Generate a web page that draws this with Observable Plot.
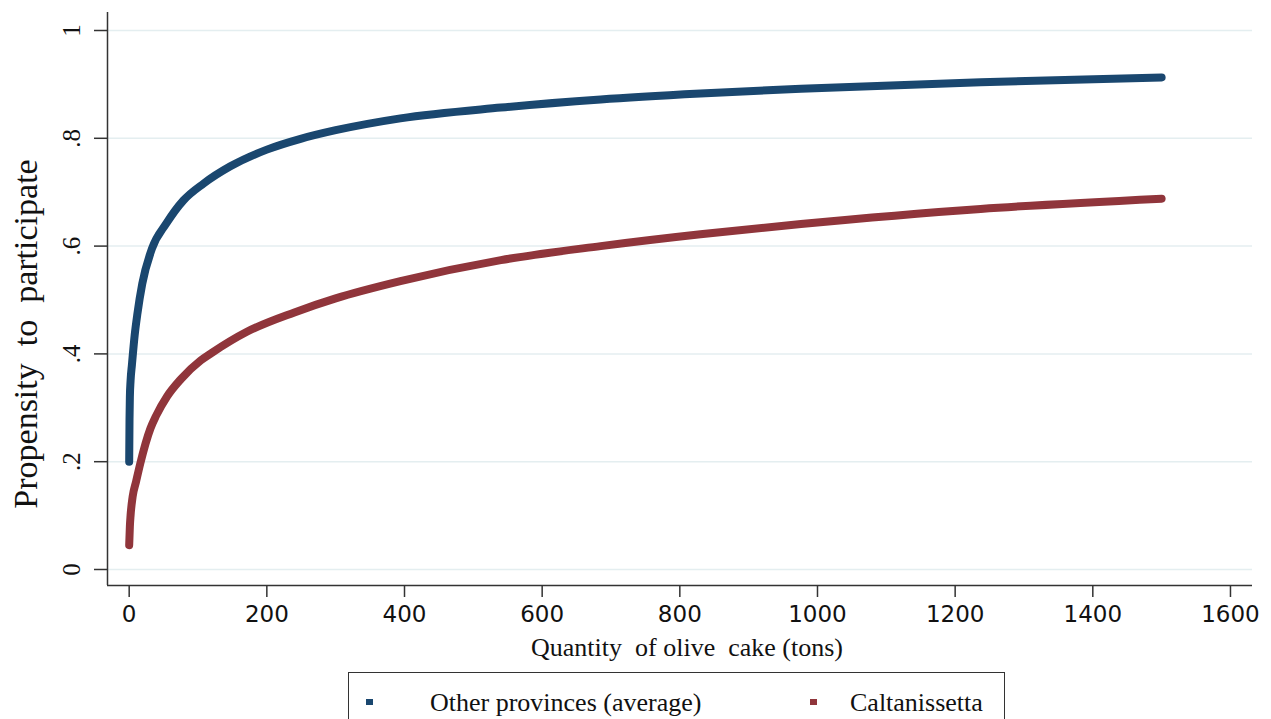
<!DOCTYPE html>
<html>
<head>
<meta charset="utf-8">
<script src="https://cdn.jsdelivr.net/npm/d3@7"></script>
<script src="https://cdn.jsdelivr.net/npm/@observablehq/plot@0.6"></script>
<style>
  html, body { margin: 0; padding: 0; background: #fff; overflow: hidden; }
  #wrap { position: relative; width: 1271px; height: 719px; overflow: hidden; }
  svg text { white-space: pre; }
  #legend { position: absolute; left: 348px; top: 672px; width: 657px; height: 70px;
            border: 1.5px solid #333; box-sizing: border-box; font-family: "Liberation Serif", serif;
            font-size: 26px; color: #111; }
  .item { position: absolute; top: 15px; white-space: pre; }
  .sw { position: absolute; top: 26px; width: 7px; height: 6px; }
</style>
</head>
<body>
<div id="wrap">
  <div id="chart"></div>
  <div id="legend"></div>
</div>
<script>
// ---- data ----
const seriesNames = ["Other provinces (average)", "Caltanissetta"];
const seriesColors = ["#1a476f", "#90353b"];

const otherQty = [0, 0.5, 1, 2, 4, 8, 12, 19, 33, 54, 79, 108, 147, 200, 249, 300, 394, 540, 685, 830, 976, 1237, 1500];
const otherVal = [0.20, 0.28, 0.32, 0.35, 0.38, 0.435, 0.475, 0.53, 0.595, 0.642, 0.685, 0.716, 0.748, 0.779, 0.799, 0.815, 0.837, 0.857, 0.872, 0.883, 0.892, 0.904, 0.913];

const caltQty = [0, 1, 2, 5, 10, 16, 31, 39, 55, 75, 104, 120, 171, 240, 300, 394, 540, 685, 830, 976, 1237, 1500];
const caltVal = [0.045, 0.08, 0.10, 0.135, 0.163, 0.196, 0.262, 0.285, 0.321, 0.353, 0.388, 0.402, 0.441, 0.477, 0.503, 0.535, 0.574, 0.600, 0.622, 0.641, 0.669, 0.688];

const xTicks = [0, 200, 400, 600, 800, 1000, 1200, 1400, 1600];
const yTicks = [0, 0.2, 0.4, 0.6, 0.8, 1];
const yTickLabels = ["0", ".2", ".4", ".6", ".8", "1"];
const xTitle = "Quantity  of olive  cake (tons)";
const yTitle = "Propensity  to  participate";

const xDomain = [-31.5, 1632];
const yDomain = [-0.0297, 1.0334];

const other = otherQty.map((q, i) => ({q, v: otherVal[i], s: seriesNames[0]}));
const calt = caltQty.map((q, i) => ({q, v: caltVal[i], s: seriesNames[1]}));

const serif = "Liberation Serif, Times New Roman, serif";

const chart = Plot.plot({
  width: 1271,
  height: 668,
  marginLeft: 107,
  marginRight: 19,
  marginTop: 12,
  marginBottom: 83,
  x: {domain: xDomain},
  y: {domain: yDomain},
  marks: [
    Plot.gridY(yTicks, {stroke: "#e4eef0", strokeOpacity: 1, strokeWidth: 1.5}),
    Plot.ruleX([xDomain[0]], {stroke: "#333", strokeWidth: 1.5}),
    Plot.ruleY([yDomain[0]], {stroke: "#333", strokeWidth: 1.5}),
    Plot.axisY(yTicks, {tickSize: 13, tickFormat: () => "", stroke: "#333", strokeWidth: 1.5, label: null}),
    Plot.text(yTicks, {y: d => d, text: (d, i) => yTickLabels[i], frameAnchor: "left", textAnchor: "middle",
      dx: -36, rotate: -90, fontSize: 25, fontFamily: serif, fill: "#111"}),
    Plot.axisX(xTicks, {tickSize: 12, tickPadding: 8, fontSize: 23, fontFamily: "DejaVu Sans, sans-serif",
      tickFormat: d => String(d), stroke: "#333", strokeWidth: 1.5, fill: "#111", label: null}),
    Plot.text([xTitle], {frameAnchor: "bottom", textAnchor: "middle", dx: 7, dy: 70, fontSize: 26, fontFamily: serif, fill: "#111"}),
    Plot.text([yTitle], {frameAnchor: "left", textAnchor: "middle", dx: -81, dy: 35, rotate: -90, fontSize: 34, fontFamily: serif, fill: "#111"}),
    Plot.line(other, {x: "q", y: "v", stroke: seriesColors[0], strokeWidth: 8, curve: "monotone-x"}),
    Plot.line(calt, {x: "q", y: "v", stroke: seriesColors[1], strokeWidth: 8, curve: "monotone-x"})
  ]
});
document.getElementById("chart").appendChild(chart);

// legend
const legend = document.getElementById("legend");
const swX = [17, 461];
const txX = [81, 501];
seriesNames.forEach((name, i) => {
  const sw = document.createElement("div");
  sw.className = "sw";
  sw.style.left = swX[i] + "px";
  sw.style.background = seriesColors[i];
  legend.appendChild(sw);
  const t = document.createElement("div");
  t.className = "item";
  t.style.left = txX[i] + "px";
  t.textContent = name;
  legend.appendChild(t);
});
</script>
</body>
</html>
